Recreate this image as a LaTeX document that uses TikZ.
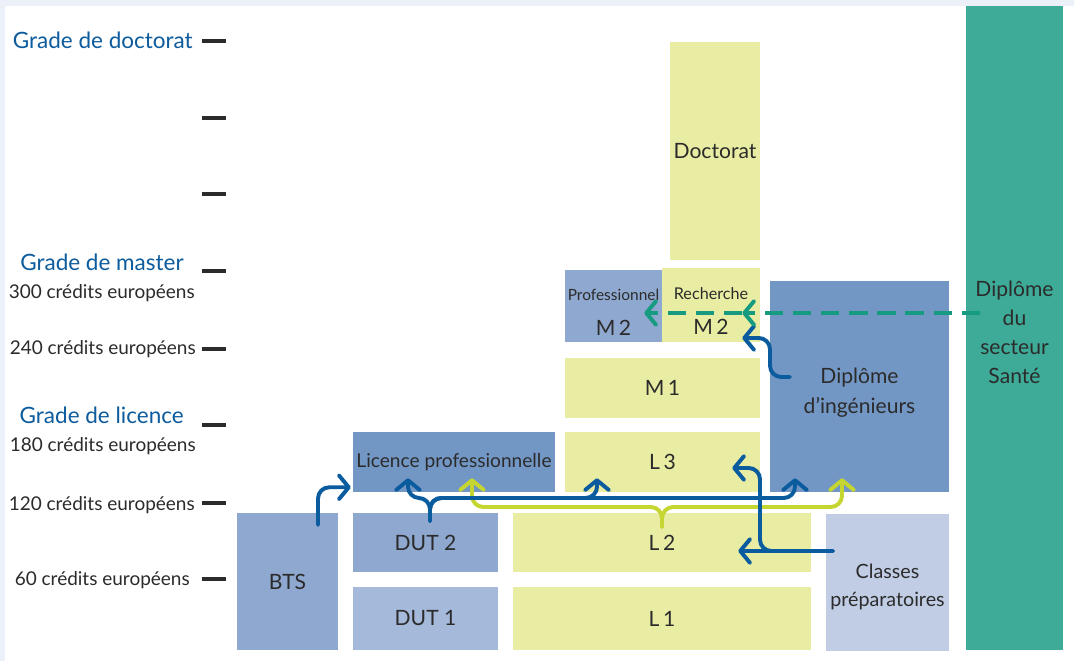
\documentclass[tikz,border=0pt]{standalone}
\usepackage{fontspec}
\setmainfont{Lato}
\usepackage{tikz}
\usetikzlibrary{arrows.meta, positioning, calc}
\definecolor{pale}{RGB}{235,240,249}
\definecolor{lime}{RGB}{233,237,163}
\definecolor{midblue}{RGB}{142,168,207}
\definecolor{deepblue}{RGB}{115,151,197}
\definecolor{softblue}{RGB}{165,185,219}
\definecolor{lightblue}{RGB}{193,205,229}
\definecolor{santeteal}{RGB}{61,171,152}
\definecolor{arrowblue}{RGB}{11,92,158}
\definecolor{arrowlime}{RGB}{197,214,48}
\definecolor{arrowteal}{RGB}{22,155,128}
\definecolor{gradeblue}{RGB}{13,92,157}
\definecolor{ink}{RGB}{43,43,43}

\begin{document}
\begin{tikzpicture}[x=0.025cm, y=-0.025cm,
    block/.style={rectangle, inner sep=0pt, text=ink, align=center, font=\fontsize{15}{21}\selectfont},
    wh/.style 2 args={minimum width=#1*0.025cm, minimum height=#2*0.025cm},
    grade/.style={anchor=east, inner sep=0pt, text=gradeblue, font=\fontsize{16}{19}\selectfont},
    credit/.style={anchor=east, inner sep=0pt, text=ink, font=\fontsize{13.5}{16}\selectfont},
    tick/.style={ink, line width=2.2pt},
    flow/.style={-{Straight Barb[length=7pt, width=17pt, round]}, line width=2.8pt, rounded corners=8pt, line cap=round},
    santeflow/.style={flow, arrowteal, line cap=butt, dash pattern=on 13pt off 7pt}
]
\useasboundingbox (0,0) rectangle (1074,661);
\fill[pale] (0,0) rectangle (1074,661);
\fill[white] (5,6) rectangle (1074,661);

\node[grade] (gdoc) at (193,40) {Grade de doctorat};
\node[grade] (gmas) at (184,262) {Grade de master};
\node[credit] (c300) at (195,293) {300 crédits européens};
\node[credit] (c240) at (196,349) {240 crédits européens};
\node[grade] (glic) at (184,415) {Grade de licence};
\node[credit] (c180) at (196,446) {180 crédits européens};
\node[credit] (c120) at (195,505) {120 crédits européens};
\node[credit] (c60) at (190,580) {60 crédits européens};
\foreach \ty in {41,118,194,271,349,425,503,579}
    \draw[tick] (202,\ty) -- (226,\ty);

\node[block, fill=lime, wh={90}{218}] (doct) at (715,151) {Doctorat};
\node[block, fill=lime, wh={98}{74}] (m2r) at (711,305) {\rule{0pt}{17pt}{\fontsize{11.5}{13}\selectfont Recherche}\\[4pt]M\,2};
\node[block, fill=midblue, wh={97}{72}] (m2p) at (613.5,306) {\rule{0pt}{17pt}{\fontsize{11}{13}\selectfont Professionnel}\\[4pt]M\,2};
\node[block, fill=lime, wh={195}{60}] (m1) at (662.5,388) {M\,1};
\node[block, fill=lime, wh={195}{60}] (l3) at (662.5,462) {L\,3};
\node[block, fill=deepblue, wh={202}{60}, font=\fontsize{13.6}{16}\selectfont] (lpro) at (454,462) {Licence professionnelle};
\node[block, fill=deepblue, wh={179}{211}] (ing) at (859.5,386.5) {\rule{0pt}{20pt}Diplôme\\d'ingénieurs};
\node[block, fill=midblue, wh={145}{59}] (dut2) at (425.5,542.5) {DUT 2};
\node[block, fill=softblue, wh={145}{63}] (dut1) at (425.5,618.5) {DUT 1};
\node[block, fill=midblue, wh={101}{137}] (bts) at (287.5,581.5) {BTS};
\node[block, fill=lime, wh={298}{59}] (l2) at (662,542.5) {L\,2};
\node[block, fill=lime, wh={298}{63}] (l1) at (662,618.5) {L\,1};
\node[block, fill=lightblue, wh={123}{137}, font=\fontsize{14}{20}\selectfont] (prep) at (887.5,583) {\rule{0pt}{16pt}Classes\\préparatoires};
\node[block, fill=santeteal, wh={97}{644}, font=\fontsize{15}{20.5}\selectfont] (sante) at (1014.5,328) {\rule{0pt}{17pt}Diplôme\\du\\secteur\\Santé};

\coordinate (btsout) at (318,525);
\coordinate (dutout) at (430,521);
\coordinate (l2out) at (662,527);
\coordinate (prepout) at (833,551);
\coordinate (ingout) at (790,377);
\coordinate (santeout) at (980,313);

\draw[flow, arrowlime] (l2out) -- ++(0,-20) -| ($(lpro.south)+(18,-14)$);
\draw[flow, arrowlime] (l2out) -- ++(0,-20) -| ($(ing.south)+(-17.5,-14)$);

\draw[flow, arrowblue] (btsout) |- ($(lpro.south west)+(-2,-5)$);
\draw[flow, arrowblue] (dutout) -- ++(0,-23) -| ($(lpro.south)+(-46,-14)$);
\draw[flow, arrowblue] (dutout) -- ++(0,-23) -| ($(l3.south)+(-65.5,-14)$);
\draw[flow, arrowblue] (dutout) -- ++(0,-23) -| ($(ing.south)+(-64.5,-14)$);
\draw[flow, arrowblue] (prepout) -- ($(l2.east)+(-73,8.5)$);
\draw[flow, arrowblue] (prepout) -- ++(-73,0) |- ($(l3.east)+(-28,6)$);
\draw[flow, arrowblue] (ingout) -- ++(-20,0) |- ($(m2r.east)+(-18,33)$);

\draw[santeflow] (santeout) -- ($(m2r.east)+(-18,8)$);
\draw[santeflow] ($(m2r.east)+(-18,8)$) -- ($(m2p.east)+(-18,7)$);
\end{tikzpicture}
\end{document}
